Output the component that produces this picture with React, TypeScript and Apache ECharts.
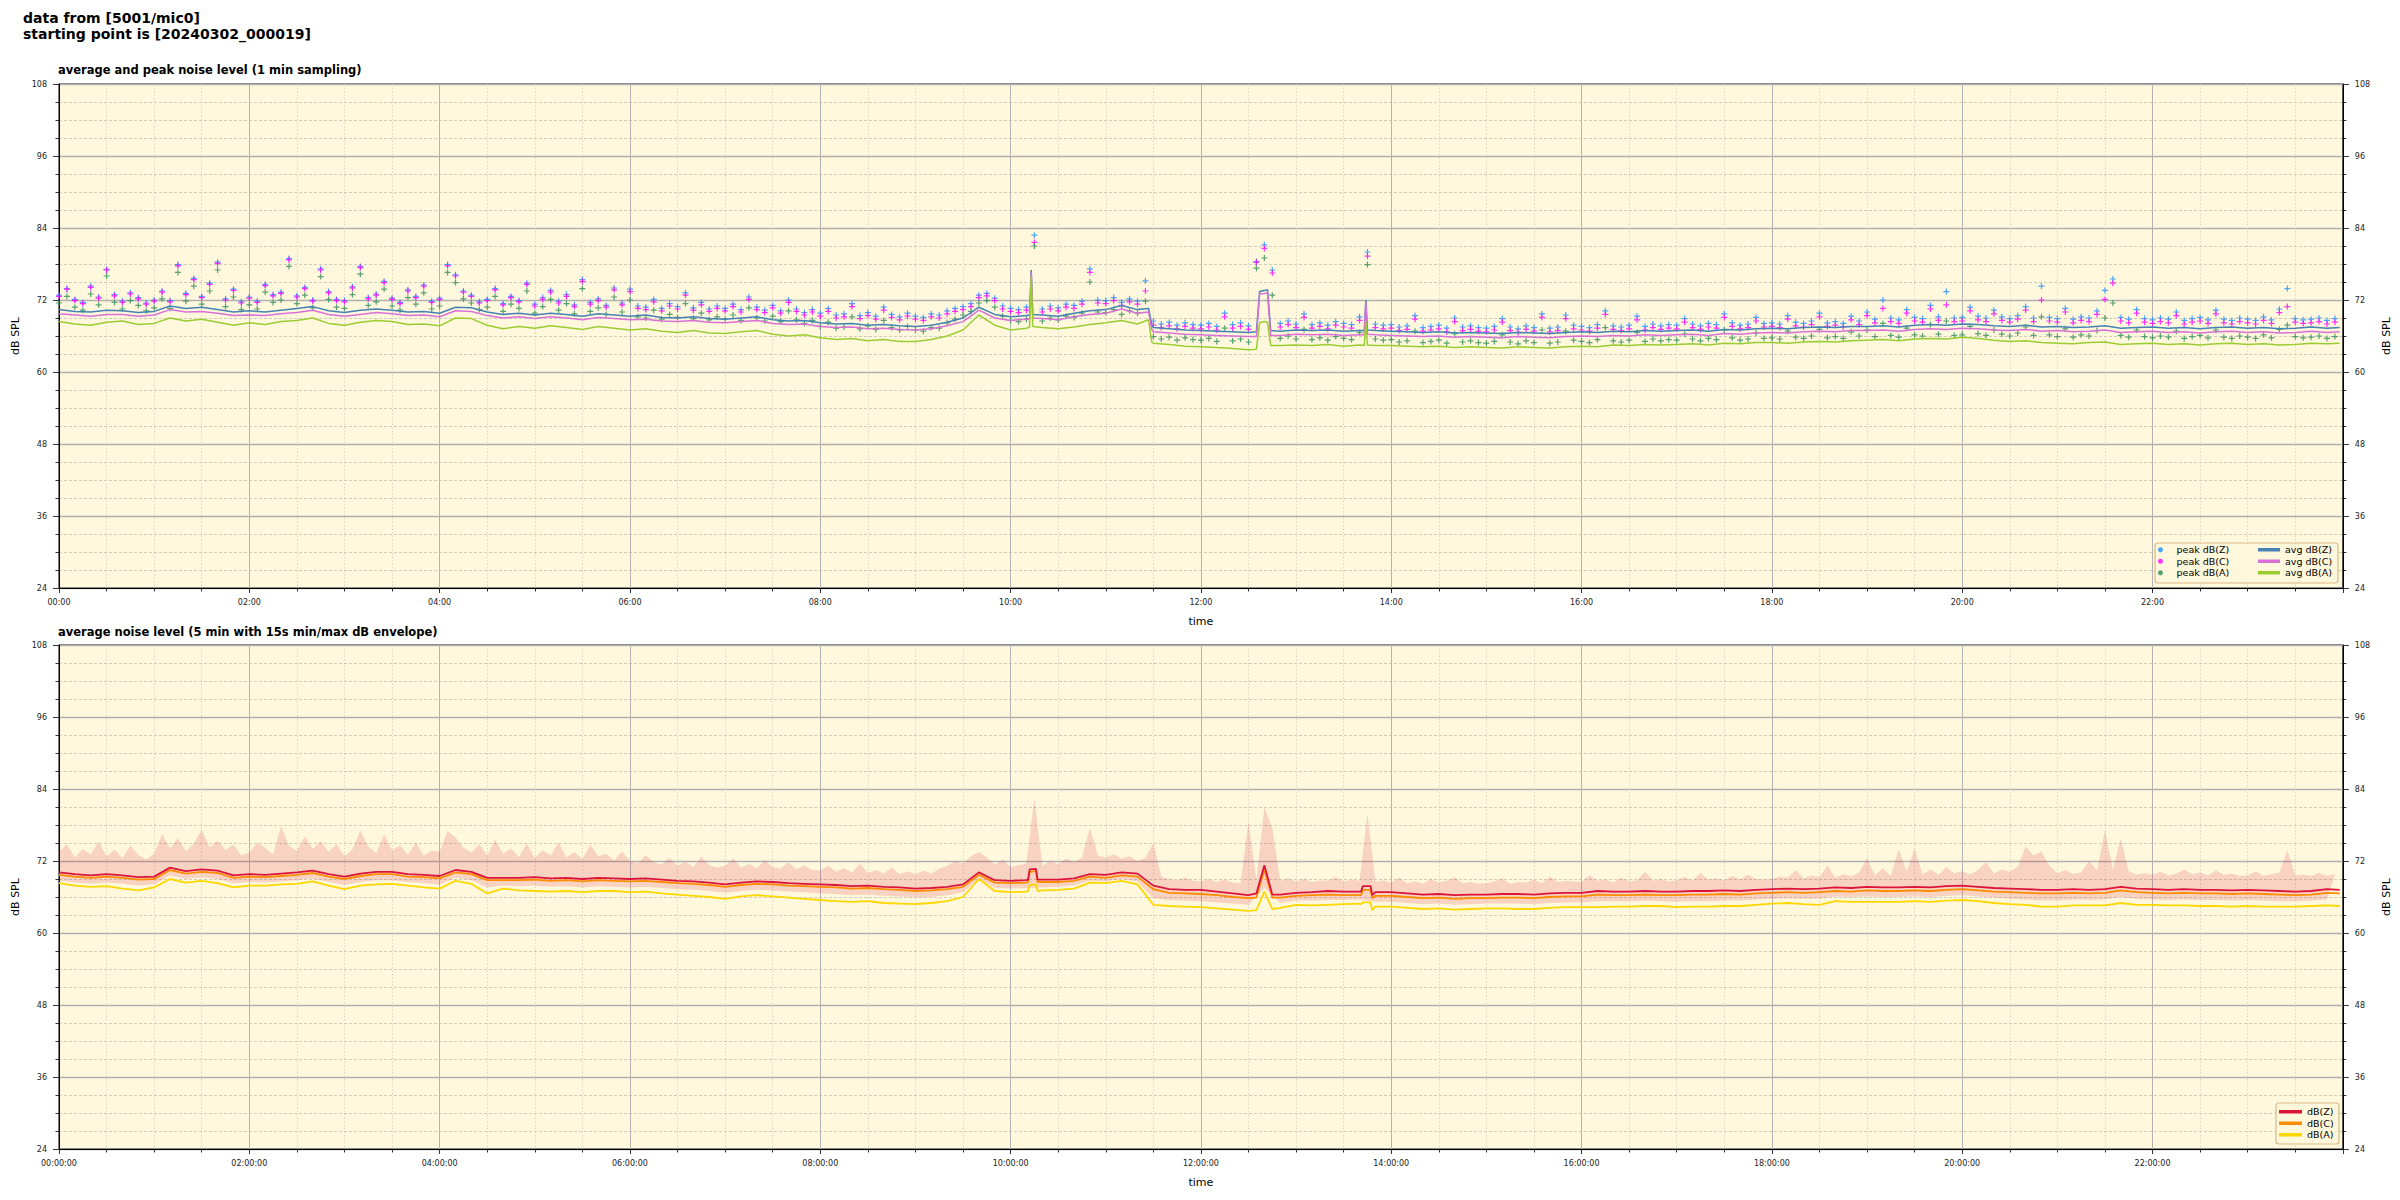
import React, { useEffect, useRef } from "react";
import * as echarts from "echarts";

const FONT = "DejaVu Sans";

const topTickLabels = ["00:00", "02:00", "04:00", "06:00", "08:00", "10:00", "12:00", "14:00", "16:00", "18:00", "20:00", "22:00"];
const bottomTickLabels = ["00:00:00", "02:00:00", "04:00:00", "06:00:00", "08:00:00", "10:00:00", "12:00:00", "14:00:00", "16:00:00", "18:00:00", "20:00:00", "22:00:00"];

// ---- top chart: 1 min sampling (read every 10 min for averages, every 5 min for peaks) ----
const avgZ = [
  70.4, 70.1, 70.0, 70.3, 70.2, 69.9,
  70.1, 71.0, 70.6, 70.8, 70.4, 70.0,
  70.2, 70.0, 70.3, 70.6, 70.9, 70.2,
  69.9, 70.3, 70.5, 70.3, 70.0, 70.1,
  69.8, 70.8, 70.7, 70.0, 69.6, 69.8,
  69.5, 69.8, 69.6, 69.3, 69.7, 69.5,
  69.3, 69.5, 69.1, 69.0, 69.2, 68.9,
  68.8, 69.0, 69.2, 68.7, 68.5, 68.6,
  68.2, 68.0, 68.1, 67.8, 67.9, 67.7,
  67.6, 67.8, 68.3, 69.0, 70.8, 69.6,
  69.2, 69.4, 69.5, 69.3, 69.8, 70.2,
  70.4, 71.1, 70.4, 67.4, 67.2, 67.0,
  66.9, 66.8, 66.7, 66.6, 73.6, 66.8,
  67.0, 66.9, 67.0, 66.8, 66.9, 66.9,
  66.8, 66.7, 66.6, 66.7, 66.5, 66.6,
  66.5, 66.4, 66.6, 66.5, 66.4, 66.6,
  66.7, 66.6, 66.8, 66.7, 66.9, 66.8,
  66.9, 67.0, 66.8, 67.1, 67.0, 67.2,
  67.3, 67.2, 67.4, 67.5, 67.4, 67.6,
  67.6, 67.7, 67.5, 67.8, 67.9, 67.8,
  68.0, 67.9, 67.7, 67.6, 67.8, 67.5,
  67.6, 67.4, 67.5, 67.7, 67.3, 67.4,
  67.5, 67.3, 67.4, 67.2, 67.4, 67.5,
  67.3, 67.4, 67.2, 67.3, 67.5, 67.3,
];
const avgC = [
  69.7, 69.5, 69.3, 69.6, 69.6, 69.3,
  69.5, 70.4, 70.0, 70.1, 69.8, 69.4,
  69.5, 69.4, 69.7, 69.9, 70.3, 69.6,
  69.3, 69.6, 69.9, 69.7, 69.4, 69.5,
  69.2, 70.2, 70.1, 69.4, 69.0, 69.2,
  68.9, 69.2, 69.0, 68.7, 69.1, 68.9,
  68.7, 68.8, 68.5, 68.4, 68.6, 68.3,
  68.2, 68.4, 68.6, 68.1, 67.9, 68.0,
  67.6, 67.4, 67.5, 67.2, 67.3, 67.1,
  67.0, 67.2, 67.7, 68.4, 70.3, 69.0,
  68.6, 68.8, 68.9, 68.7, 69.2, 69.6,
  69.8, 70.5, 69.8, 66.7, 66.5, 66.3,
  66.2, 66.1, 66.0, 65.9, 73.1, 66.1,
  66.3, 66.2, 66.3, 66.1, 66.2, 66.2,
  66.1, 66.0, 65.9, 66.0, 65.8, 65.9,
  65.8, 65.7, 65.9, 65.8, 65.7, 65.9,
  66.0, 65.9, 66.1, 66.0, 66.2, 66.1,
  66.2, 66.3, 66.1, 66.4, 66.3, 66.5,
  66.6, 66.5, 66.7, 66.8, 66.7, 66.9,
  66.9, 67.0, 66.8, 67.1, 67.2, 67.1,
  67.3, 67.2, 67.0, 66.9, 67.1, 66.8,
  66.9, 66.7, 66.8, 67.0, 66.6, 66.7,
  66.8, 66.6, 66.7, 66.5, 66.7, 66.8,
  66.6, 66.7, 66.5, 66.6, 66.8, 66.6,
];
const avgA = [
  68.4, 68.0, 67.8, 68.3, 68.5, 67.9,
  68.1, 69.0, 68.5, 68.8, 68.3, 67.8,
  68.2, 67.9, 68.4, 68.6, 69.0, 68.1,
  67.8, 68.3, 68.6, 68.4, 67.9, 68.0,
  67.7, 69.0, 68.9, 67.8, 67.2, 67.6,
  67.3, 67.7, 67.4, 67.1, 67.6, 67.3,
  67.0, 67.2, 66.8, 66.6, 66.9, 66.5,
  66.4, 66.7, 66.9, 66.3, 66.0, 66.2,
  65.7, 65.4, 65.6, 65.2, 65.4, 65.1,
  65.1, 65.4, 66.0, 67.0, 69.5, 67.8,
  67.0, 67.3, 67.4, 67.2, 67.5, 67.9,
  68.2, 68.6, 68.0, 64.8, 64.6, 64.3,
  64.2, 64.1, 63.9, 63.7, 68.4, 64.4,
  64.5, 64.4, 64.6, 64.3, 64.5, 64.4,
  64.4, 64.3, 64.2, 64.3, 64.1, 64.2,
  64.1, 64.0, 64.2, 64.1, 64.0, 64.2,
  64.3, 64.2, 64.5, 64.4, 64.6, 64.5,
  64.6, 64.7, 64.5, 64.8, 64.7, 64.9,
  64.9, 64.8, 65.0, 65.1, 65.0, 65.2,
  65.3, 65.4, 65.2, 65.5, 65.6, 65.5,
  65.8, 65.6, 65.3, 65.1, 65.2, 64.9,
  64.8, 64.7, 64.9, 65.0, 64.6, 64.7,
  64.8, 64.6, 64.7, 64.5, 64.7, 64.8,
  64.6, 64.7, 64.5, 64.6, 64.8, 64.7,
];
// short events read at minute precision: [minute, dB]
const avgZEvents = [[612, 69.5], [613, 77.0], [614, 69.6], [687, 70.6], [689, 67.8], [755, 66.7], [757, 73.4], [762, 73.7], [764, 66.9], [823, 66.9], [824, 72.0], [825, 67.0], [1438, 67.4]];
const avgCEvents = [[612, 68.9], [613, 76.6], [614, 69.0], [687, 70.0], [689, 67.1], [755, 65.9], [757, 73.0], [762, 73.2], [764, 66.1], [823, 66.2], [824, 71.6], [825, 66.3], [1438, 66.7]];
const avgAEvents = [[612, 67.5], [613, 76.0], [614, 67.6], [687, 68.7], [689, 65.0], [755, 63.8], [757, 68.2], [762, 68.3], [764, 64.4], [823, 64.4], [824, 68.5], [825, 64.5], [1438, 64.8]];

const peakZ = [
  72.8, 73.9, 72.1, 71.6, 74.3, 72.5, 77.1, 72.9, 71.8, 73.2, 72.4, 71.5,
  72.0, 73.5, 71.9, 77.9, 73.1, 75.6, 72.6, 74.8, 78.3, 72.2, 73.8, 71.7,
  72.5, 71.8, 74.6, 72.9, 73.3, 78.9, 72.7, 74.1, 72.0, 77.2, 73.4, 72.1,
  71.9, 74.2, 77.6, 72.4, 73.0, 75.1, 72.3, 71.6, 73.7, 72.6, 74.5, 71.8,
  72.3, 77.9, 76.2, 73.5, 72.8, 71.7, 72.1, 73.9, 71.4, 72.6, 71.9, 74.8,
  71.3, 72.4, 73.6, 71.8, 72.9, 71.2, 75.4, 71.6, 72.2, 71.1, 74.0, 71.5,
  73.8, 71.0, 70.8, 72.1, 70.6, 71.4, 70.9, 73.2, 70.7, 71.6, 70.5, 71.0,
  70.6, 71.3, 70.4, 72.5, 70.8, 70.3, 71.1, 70.2, 72.0, 70.5, 69.9, 70.4,
  69.8, 70.6, 69.5, 69.7, 71.4, 69.4, 69.9, 69.3, 70.8, 69.6, 69.2, 69.8,
  69.3, 69.1, 69.7, 69.5, 70.2, 70.6, 70.9, 71.4, 72.8, 73.1, 72.3, 71.0,
  70.6, 70.4, 70.8, 82.8, 70.5, 71.0, 70.7, 71.3, 71.1, 71.8, 77.2, 72.0,
  71.9, 72.4, 71.6, 72.2, 71.8, 75.2, 68.5, 68.0, 68.3, 67.8, 68.2, 67.9,
  67.8, 68.1, 67.6, 69.8, 67.9, 68.2, 67.7, 78.4, 81.2, 77.0, 68.1, 68.5,
  68.0, 69.7, 67.9, 68.2, 67.8, 68.4, 68.1, 67.9, 69.2, 80.0, 68.0, 67.8,
  67.9, 67.5, 67.7, 69.4, 67.4, 67.6, 67.8, 67.3, 69.0, 67.5, 67.7, 67.4,
  67.3, 67.6, 68.9, 67.5, 67.2, 67.7, 67.4, 69.7, 67.3, 67.5, 69.5, 67.8,
  67.6, 67.4, 67.9, 70.2, 67.7, 67.5, 67.8, 69.3, 67.6, 68.0, 67.7, 67.9,
  67.8, 68.9, 68.0, 67.7, 68.1, 67.9, 69.7, 68.2, 67.8, 68.0, 69.1, 68.1,
  68.2, 68.0, 69.4, 68.3, 68.1, 68.5, 69.8, 68.2, 68.4, 68.1, 69.3, 68.5,
  70.0, 68.8, 72.0, 69.0, 68.7, 70.4, 69.1, 68.9, 71.1, 69.2, 73.4, 69.0,
  69.1, 70.8, 69.3, 69.0, 70.3, 69.2, 68.9, 69.4, 70.9, 69.0, 74.3, 69.1,
  68.9, 70.6, 68.8, 69.2, 69.0, 70.2, 73.6, 75.5, 69.1, 68.8, 70.4, 68.9,
  68.7, 69.0, 68.8, 70.0, 68.6, 68.9, 69.1, 68.7, 70.3, 68.8, 68.6, 69.0,
  68.8, 68.6, 69.2, 68.7, 70.5, 73.9, 68.9, 68.7, 68.8, 69.0, 68.6, 68.9,
];
const peakC = [
  72.6, 73.8, 71.9, 71.4, 74.1, 72.3, 77.0, 72.7, 71.6, 73.0, 72.2, 71.3,
  71.8, 73.3, 71.7, 77.7, 72.9, 75.4, 72.4, 74.6, 78.1, 72.0, 73.6, 71.5,
  72.3, 71.6, 74.4, 72.7, 73.1, 78.7, 72.5, 73.9, 71.8, 77.0, 73.2, 71.9,
  71.7, 74.0, 77.4, 72.2, 72.8, 74.9, 72.1, 71.4, 73.5, 72.4, 74.3, 71.6,
  72.1, 77.7, 76.0, 73.3, 72.6, 71.5, 71.9, 73.7, 71.2, 72.4, 71.7, 74.6,
  71.0, 72.1, 73.3, 71.5, 72.6, 70.9, 75.1, 71.3, 71.9, 70.8, 73.7, 71.2,
  73.4, 70.6, 70.4, 71.7, 70.2, 71.0, 70.5, 72.8, 70.3, 71.2, 70.1, 70.6,
  70.2, 70.9, 70.0, 72.1, 70.4, 69.9, 70.7, 69.8, 71.6, 70.1, 69.5, 70.0,
  69.3, 70.1, 69.0, 69.2, 70.9, 68.9, 69.4, 68.8, 70.3, 69.1, 68.7, 69.3,
  68.8, 68.6, 69.2, 69.0, 69.7, 70.1, 70.4, 70.9, 72.4, 72.7, 71.9, 70.5,
  70.1, 69.9, 70.3, 81.6, 70.0, 70.5, 70.2, 70.8, 70.6, 71.3, 76.6, 71.5,
  71.4, 71.9, 71.1, 71.7, 71.3, 73.5, 67.8, 67.4, 67.7, 67.2, 67.6, 67.3,
  67.2, 67.5, 67.0, 69.2, 67.3, 67.6, 67.1, 78.3, 80.6, 76.5, 67.5, 67.9,
  67.4, 69.1, 67.3, 67.6, 67.2, 67.8, 67.5, 67.3, 68.6, 79.3, 67.4, 67.2,
  67.3, 66.9, 67.1, 68.8, 66.8, 67.0, 67.2, 66.7, 68.4, 66.9, 67.1, 66.8,
  66.7, 67.0, 68.3, 66.9, 66.6, 67.1, 66.8, 69.1, 66.7, 66.9, 68.9, 67.2,
  67.0, 66.8, 67.3, 69.6, 67.1, 66.9, 67.2, 68.7, 67.0, 67.4, 67.1, 67.3,
  67.2, 68.3, 67.4, 67.1, 67.5, 67.3, 69.1, 67.6, 67.2, 67.4, 68.5, 67.5,
  67.6, 67.4, 68.8, 67.7, 67.5, 67.9, 69.2, 67.6, 67.8, 67.5, 68.7, 67.9,
  69.4, 68.2, 70.6, 68.4, 68.1, 69.8, 68.5, 68.3, 70.5, 68.6, 71.2, 68.4,
  68.5, 70.2, 68.7, 68.4, 69.7, 68.6, 68.3, 68.8, 70.3, 68.4, 72.0, 68.5,
  68.3, 70.0, 68.2, 68.6, 68.4, 69.6, 72.1, 74.8, 68.5, 68.2, 69.8, 68.3,
  68.1, 68.4, 68.2, 69.4, 68.0, 68.3, 68.5, 68.1, 69.7, 68.2, 68.0, 68.4,
  68.2, 68.0, 68.6, 68.1, 69.9, 70.9, 68.3, 68.1, 68.2, 68.4, 68.0, 68.3,
];
const peakA = [
  71.5, 72.6, 70.8, 70.3, 73.0, 71.2, 76.0, 71.6, 70.5, 71.9, 71.1, 70.2,
  70.7, 72.2, 70.6, 76.6, 71.8, 74.3, 71.3, 73.5, 77.0, 70.9, 72.5, 70.4,
  71.2, 70.5, 73.3, 71.6, 72.0, 77.6, 71.4, 72.8, 70.7, 75.9, 72.1, 70.8,
  70.6, 72.9, 76.3, 71.1, 71.7, 73.8, 71.0, 70.3, 72.4, 71.3, 73.2, 70.5,
  71.0, 76.6, 74.9, 72.2, 71.5, 70.4, 70.8, 72.6, 70.1, 71.3, 70.6, 73.5,
  69.8, 70.9, 72.1, 70.3, 71.4, 69.7, 73.9, 70.1, 70.7, 69.6, 72.5, 70.0,
  72.0, 69.2, 69.0, 70.3, 68.8, 69.6, 69.1, 71.4, 68.9, 69.8, 68.7, 69.2,
  68.8, 69.5, 68.6, 70.7, 69.0, 68.5, 69.3, 68.4, 70.2, 68.7, 68.1, 68.6,
  67.6, 68.3, 67.3, 67.5, 69.2, 67.2, 67.7, 67.1, 68.6, 67.4, 67.0, 67.6,
  67.0, 66.8, 67.4, 67.3, 68.2, 68.8, 69.5, 70.1, 71.5, 71.9, 70.8, 69.3,
  68.6, 68.4, 68.8, 81.0, 68.5, 69.0, 68.7, 69.3, 69.1, 69.8, 75.0, 70.0,
  69.9, 70.4, 69.6, 70.2, 69.8, 71.8, 65.9, 65.5, 65.8, 65.3, 65.7, 65.4,
  65.3, 65.6, 65.1, 67.3, 65.2, 65.5, 65.0, 77.3, 79.0, 72.8, 65.6, 66.0,
  65.5, 67.1, 65.4, 65.7, 65.3, 65.9, 65.6, 65.4, 66.6, 77.9, 65.5, 65.3,
  65.4, 65.0, 65.2, 66.8, 64.9, 65.1, 65.3, 64.8, 66.4, 65.0, 65.2, 64.9,
  64.8, 65.1, 66.2, 65.0, 64.7, 65.2, 64.9, 67.0, 64.8, 65.0, 66.8, 65.3,
  65.1, 64.9, 65.4, 67.4, 65.2, 65.0, 65.3, 66.6, 65.1, 65.5, 65.2, 65.4,
  65.3, 66.3, 65.5, 65.2, 65.6, 65.4, 67.0, 65.7, 65.3, 65.5, 66.5, 65.6,
  65.7, 65.5, 66.8, 65.8, 65.6, 66.0, 67.1, 65.7, 65.9, 65.6, 66.7, 66.0,
  67.0, 65.9, 68.1, 66.1, 65.8, 67.3, 66.2, 66.0, 67.9, 66.3, 68.5, 66.1,
  66.2, 67.6, 66.4, 66.1, 67.0, 66.3, 66.0, 66.5, 67.5, 66.1, 69.2, 66.2,
  65.9, 67.2, 65.8, 66.2, 66.0, 66.9, 69.0, 71.5, 66.1, 65.8, 67.0, 65.9,
  65.7, 66.0, 65.8, 66.8, 65.6, 65.9, 66.1, 65.7, 67.0, 65.8, 65.6, 66.0,
  65.8, 65.6, 66.2, 65.7, 67.1, 67.8, 65.9, 65.7, 65.8, 66.0, 65.6, 65.9,
];

// ---- bottom chart: 5 min averages (read every 10 min) and 15 s min/max envelope ----
const botZ = [
  70.1, 69.8, 69.6, 69.8, 69.6, 69.3,
  69.4, 70.9, 70.3, 70.6, 70.4, 69.6,
  69.8, 69.7, 69.9, 70.1, 70.4, 69.8,
  69.4, 69.9, 70.2, 70.2, 69.8, 69.7,
  69.5, 70.5, 70.2, 69.2, 69.2, 69.2,
  69.3, 69.1, 69.2, 69.0, 69.2, 69.1,
  69.0, 69.1, 68.9, 68.7, 68.6, 68.4,
  68.1, 68.4, 68.6, 68.5, 68.3, 68.2,
  68.1, 68.0, 67.8, 67.9, 67.7, 67.6,
  67.4, 67.5, 67.7, 68.1, 70.1, 68.8,
  68.7, 68.8, 68.9, 68.9, 69.1, 69.8,
  69.7, 70.1, 69.9, 67.9, 67.3, 67.2,
  67.2, 66.9, 66.6, 66.3, 71.3, 66.4,
  66.7, 66.8, 67.0, 66.9, 66.9, 66.8,
  66.8, 66.6, 66.4, 66.5, 66.3, 66.4,
  66.4, 66.5, 66.5, 66.4, 66.6, 66.7,
  66.7, 67.0, 66.9, 66.9, 67.0, 66.9,
  66.9, 67.0, 67.0, 67.1, 67.0, 67.2,
  67.3, 67.4, 67.3, 67.4, 67.6, 67.5,
  67.7, 67.6, 67.6, 67.7, 67.6, 67.8,
  67.9, 67.7, 67.5, 67.4, 67.3, 67.2,
  67.2, 67.3, 67.2, 67.3, 67.7, 67.4,
  67.3, 67.2, 67.3, 67.2, 67.2, 67.1,
  67.2, 67.1, 67.0, 66.9, 67.0, 67.3,
];
const botC = [
  69.7, 69.4, 69.2, 69.4, 69.2, 68.9,
  69.0, 70.5, 69.9, 70.2, 70.0, 69.2,
  69.4, 69.3, 69.5, 69.7, 70.0, 69.4,
  69.0, 69.5, 69.8, 69.8, 69.4, 69.3,
  69.1, 70.1, 69.8, 68.8, 68.8, 68.8,
  68.9, 68.7, 68.8, 68.6, 68.8, 68.7,
  68.6, 68.7, 68.5, 68.3, 68.2, 68.0,
  67.7, 68.0, 68.2, 68.1, 67.9, 67.8,
  67.7, 67.6, 67.4, 67.5, 67.3, 67.2,
  67.0, 67.1, 67.3, 67.7, 69.7, 68.4,
  68.3, 68.4, 68.5, 68.5, 68.7, 69.4,
  69.2, 69.6, 69.4, 67.3, 66.7, 66.6,
  66.5, 66.3, 66.0, 65.8, 70.6, 65.9,
  66.2, 66.3, 66.4, 66.3, 66.3, 66.2,
  66.2, 66.0, 65.8, 65.9, 65.7, 65.8,
  65.8, 65.9, 65.9, 65.8, 66.0, 66.1,
  66.1, 66.4, 66.3, 66.3, 66.4, 66.3,
  66.3, 66.4, 66.4, 66.5, 66.4, 66.6,
  66.7, 66.8, 66.7, 66.8, 67.0, 66.9,
  67.1, 67.0, 67.0, 67.1, 67.0, 67.2,
  67.3, 67.1, 66.9, 66.8, 66.7, 66.6,
  66.6, 66.7, 66.6, 66.7, 67.1, 66.8,
  66.7, 66.6, 66.7, 66.6, 66.6, 66.5,
  66.6, 66.5, 66.4, 66.3, 66.4, 66.7,
];
const botA = [
  68.3, 67.9, 67.7, 67.8, 67.4, 67.1,
  67.6, 69.0, 68.4, 68.7, 68.3, 67.6,
  67.9, 67.9, 68.1, 68.2, 68.6, 67.9,
  67.3, 67.9, 68.1, 68.2, 67.9, 67.6,
  67.4, 68.7, 68.2, 66.6, 67.4, 67.1,
  67.0, 66.9, 67.0, 66.8, 67.0, 67.0,
  66.8, 66.9, 66.6, 66.4, 66.2, 66.0,
  65.7, 66.1, 66.3, 66.1, 65.9, 65.7,
  65.5, 65.3, 65.2, 65.3, 65.0, 64.9,
  64.8, 65.0, 65.3, 66.0, 69.0, 67.0,
  66.8, 66.9, 67.1, 67.2, 67.4, 68.4,
  68.3, 68.7, 68.1, 64.7, 64.5, 64.4,
  64.3, 64.1, 63.9, 63.7, 66.9, 64.2,
  64.7, 64.6, 64.7, 64.8, 64.9, 64.4,
  64.4, 64.2, 64.0, 64.1, 63.9, 64.0,
  64.1, 64.1, 64.0, 64.0, 64.2, 64.3,
  64.3, 64.3, 64.4, 64.4, 64.5, 64.5,
  64.3, 64.4, 64.4, 64.5, 64.5, 64.7,
  64.9, 65.0, 64.8, 64.7, 65.3, 65.2,
  65.2, 65.2, 65.2, 65.3, 65.2, 65.4,
  65.5, 65.3, 65.0, 64.8, 64.7, 64.4,
  64.4, 64.6, 64.6, 64.6, 65.0, 64.7,
  64.7, 64.6, 64.6, 64.5, 64.5, 64.4,
  64.5, 64.4, 64.4, 64.4, 64.5, 64.6,
];
const botZEvents = [[611, 68.9], [612, 70.6], [616, 70.7], [617, 68.9], [755, 66.6], [765, 66.4], [821, 66.9], [822, 67.8], [827, 67.8], [828, 66.3], [1438, 67.2]];
const botCEvents = [[611, 68.5], [612, 70.2], [616, 70.3], [617, 68.5], [755, 65.9], [765, 65.9], [821, 66.3], [822, 67.2], [827, 67.2], [828, 65.8], [1438, 66.6]];
const botAEvents = [[611, 67.0], [612, 68.0], [616, 68.1], [617, 67.0], [755, 63.8], [765, 64.0], [821, 64.8], [822, 65.1], [827, 65.1], [828, 63.8], [1438, 64.5]];

// envelope: max read every 5 min, min read every 10 min
const envMax = [
  73.5, 74.8, 72.6, 74.0, 73.1, 75.2, 72.8, 73.9, 72.4, 74.6, 73.0, 72.3,
  73.2, 76.5, 74.1, 75.8, 73.6, 74.9, 77.2, 74.3, 75.4, 73.8, 74.7, 72.9,
  73.4, 75.0, 74.2, 73.1, 77.8, 74.5, 73.7, 76.1, 74.0, 75.3, 73.5, 74.8,
  72.8, 73.9, 77.1, 74.4, 73.3, 76.4, 73.8, 74.6, 73.0, 75.1, 72.9, 73.7,
  73.6, 77.0, 75.9, 74.2, 73.4, 74.8, 72.9, 75.6, 73.2, 74.1, 72.7, 74.9,
  72.5, 73.8, 72.9, 75.1, 72.6, 73.5, 72.3, 74.7, 72.8, 73.2, 72.1, 73.6,
  72.0, 71.6, 73.0, 71.8, 71.4, 72.5, 71.2, 71.9, 71.0, 72.7, 71.3, 70.9,
  71.2, 72.4, 70.9, 71.5, 70.8, 72.1, 71.0, 70.7, 71.8, 70.6, 71.3, 70.5,
  70.4, 71.2, 70.2, 70.8, 70.1, 71.6, 70.0, 70.5, 69.9, 70.9, 69.8, 70.3,
  69.8, 70.4, 69.9, 70.7, 71.2, 72.0, 71.6, 72.8, 73.5, 72.6, 71.4, 72.2,
  71.0, 71.3, 71.6, 82.5, 71.2, 72.0, 71.5, 72.4, 71.8, 72.6, 77.5, 72.9,
  72.6, 73.1, 72.4, 72.8, 72.0, 72.5, 75.0, 69.4, 69.0, 68.8, 69.2, 68.7,
  68.6, 69.0, 68.5, 68.9, 68.4, 68.3, 78.6, 68.8, 81.0, 77.5, 68.7, 69.1,
  68.6, 69.0, 68.5, 68.8, 68.7, 69.3, 68.6, 68.9, 68.7, 79.9, 68.5, 68.8,
  68.4, 69.2, 68.3, 68.6, 68.2, 69.0, 68.4, 68.7, 69.3, 68.3, 68.5, 68.2,
  68.3, 68.6, 69.1, 68.2, 68.5, 68.4, 68.9, 68.3, 69.4, 68.5, 68.7, 68.6,
  68.5, 69.6, 68.7, 68.9, 68.4, 69.2, 68.6, 68.8, 70.2, 68.7, 69.0, 68.6,
  68.8, 69.3, 68.7, 70.0, 68.9, 69.1, 68.8, 69.5, 68.9, 69.7, 69.0, 68.9,
  69.0, 69.4, 69.2, 70.5, 69.1, 69.6, 69.3, 71.3, 69.2, 69.8, 69.4, 70.1,
  72.4, 69.6, 70.8, 69.5, 74.0, 70.2, 74.1, 69.8, 70.6, 69.7, 71.0, 69.9,
  70.3, 69.8, 70.5, 71.8, 69.9, 70.6, 70.2, 71.0, 74.4, 72.9, 73.6, 71.2,
  69.9, 70.5, 69.8, 70.1, 72.0, 70.4, 77.2, 70.6, 75.8, 70.3, 69.7, 70.0,
  69.7, 70.2, 69.6, 69.9, 70.6, 69.8, 70.1, 69.6, 70.4, 69.7, 69.9, 69.5,
  69.6, 70.3, 69.5, 69.8, 70.1, 73.8, 69.6, 69.7, 69.5, 70.0, 69.6, 69.8,
];
const envMin = [
  68.7, 68.4, 68.2, 68.4, 68.2, 67.9,
  68.1, 69.6, 69.0, 69.3, 69.0, 68.3,
  68.5, 68.4, 68.6, 68.8, 69.1, 68.5,
  68.0, 68.5, 68.8, 68.8, 68.5, 68.3,
  68.1, 69.2, 68.8, 67.6, 67.9, 67.8,
  67.9, 67.7, 67.8, 67.6, 67.8, 67.7,
  67.6, 67.7, 67.5, 67.3, 67.2, 67.0,
  66.7, 67.0, 67.2, 67.1, 66.9, 66.8,
  66.6, 66.5, 66.3, 66.4, 66.2, 66.1,
  65.9, 66.0, 66.3, 66.8, 69.0, 67.5,
  67.4, 67.5, 67.6, 67.7, 67.9, 68.7,
  68.6, 69.0, 68.6, 65.8, 65.5, 65.4,
  65.3, 65.1, 64.9, 64.7, 67.5, 65.0,
  65.4, 65.4, 65.5, 65.5, 65.6, 65.2,
  65.2, 65.0, 64.8, 64.9, 64.7, 64.8,
  64.9, 64.9, 64.9, 64.8, 65.0, 65.1,
  65.1, 65.3, 65.3, 65.3, 65.4, 65.3,
  65.2, 65.3, 65.3, 65.4, 65.4, 65.6,
  65.7, 65.8, 65.7, 65.7, 66.1, 66.0,
  66.1, 66.0, 66.0, 66.1, 66.0, 66.2,
  66.3, 66.1, 65.9, 65.7, 65.6, 65.4,
  65.4, 65.6, 65.5, 65.6, 66.0, 65.7,
  65.6, 65.5, 65.6, 65.5, 65.5, 65.4,
  65.5, 65.4, 65.3, 65.3, 65.4, 65.6,
];

function withEvents(values: number[], step: number, events: number[][]) {
  return values
    .map((v, i) => [i * step, v])
    .concat(events)
    .sort((a, b) => a[0] - b[0]);
}
function every5(values: number[]) {
  return values.map((v, i) => [i * 5, v]);
}

const PLUS = "path://M2,0H3V2H5V3H3V5H2V3H0V2H2Z";
const TXT = "#222";

function xAxisFor(gridIndex: number, labels: string[]) {
  return {
    type: "value",
    gridIndex,
    min: 0,
    max: 1440,
    interval: 120,
    name: "time",
    nameLocation: "middle",
    nameGap: 28,
    nameTextStyle: { fontSize: 11, color: "#000", fontFamily: FONT },
    axisLine: { show: true, onZero: false, lineStyle: { color: "#000", width: 1 } },
    axisTick: { show: true, length: 5, lineStyle: { color: "#000", width: 0.8 } },
    minorTick: { show: true, splitNumber: 4, length: 3.5, lineStyle: { color: "#000", width: 0.8 } },
    axisLabel: {
      margin: 10,
      fontSize: 8,
      color: TXT,
      fontFamily: FONT,
      showMaxLabel: false,
      formatter: (v: number) => (v % 120 === 0 && labels[v / 120] ? labels[v / 120] : ""),
    },
    splitLine: { show: true, lineStyle: { color: "#b4b4b4", width: 1 } },
    minorSplitLine: { show: true, lineStyle: { color: "#d2cdb8", width: 0.8, type: [1.5, 2] } },
  };
}

function yAxisFor(gridIndex: number, position: "left" | "right") {
  const left = position === "left";
  return {
    type: "value",
    gridIndex,
    position,
    min: 24,
    max: 108,
    interval: 12,
    name: "dB SPL",
    nameLocation: "middle",
    nameGap: left ? 36 : 30,
    nameRotate: 90,
    nameTextStyle: { fontSize: 11, color: "#000", fontFamily: FONT },
    axisLine: { show: true, lineStyle: { color: "#000", width: 1 } },
    axisTick: { show: true, length: 6, lineStyle: { color: "#000", width: 0.8 } },
    minorTick: { show: true, splitNumber: 4, length: 3.5, lineStyle: { color: "#000", width: 0.8 } },
    axisLabel: { margin: 12, fontSize: 8, color: TXT, fontFamily: FONT },
    splitLine: { show: left, lineStyle: { color: "#b0b0b0", width: 1.4 } },
    minorSplitLine: { show: left, lineStyle: { color: "#c4c0b0", width: 0.8, type: [3, 2] } },
  };
}

const option: any = {
  animation: false,
  backgroundColor: "#ffffff",
  textStyle: { fontFamily: FONT },
  title: [
    {
      text: "data from [5001/mic0]\nstarting point is [20240302_000019]",
      left: 23,
      top: 10,
      padding: 0,
      textStyle: { fontSize: 14, fontWeight: "bold", lineHeight: 15.7, color: "#000", fontFamily: FONT },
    },
    {
      text: "average and peak noise level (1 min sampling)",
      left: 58,
      top: 64,
      padding: 0,
      textStyle: { fontSize: 11.5, fontWeight: "bold", color: "#000", fontFamily: FONT },
    },
    {
      text: "average noise level (5 min with 15s min/max dB envelope)",
      left: 58,
      top: 626,
      padding: 0,
      textStyle: { fontSize: 11.5, fontWeight: "bold", color: "#000", fontFamily: FONT },
    },
  ],
  grid: [
    { left: 59, top: 84, width: 2284, height: 504, show: true, backgroundColor: "#fff8dc", borderColor: "#000", borderWidth: 1 },
    { left: 59, top: 645, width: 2284, height: 504, show: true, backgroundColor: "#fff8dc", borderColor: "#000", borderWidth: 1 },
  ],
  xAxis: [xAxisFor(0, topTickLabels), xAxisFor(1, bottomTickLabels)],
  yAxis: [yAxisFor(0, "left"), yAxisFor(0, "right"), yAxisFor(1, "left"), yAxisFor(1, "right")],
  legend: [
    {
      data: [
        { name: "peak dB(Z)", icon: "circle" },
        { name: "peak dB(C)", icon: "circle" },
        { name: "peak dB(A)", icon: "circle" },
      ],
      left: 2158,
      top: 544,
      orient: "vertical",
      itemWidth: 22,
      itemHeight: 5,
      itemGap: 0,
      padding: 0,
      selectedMode: false,
      z: 120,
      textStyle: { fontSize: 9.5, lineHeight: 11.5, color: "#000", fontFamily: FONT },
    },
    {
      data: [
        { name: "avg dB(Z)", icon: "rect" },
        { name: "avg dB(C)", icon: "rect" },
        { name: "avg dB(A)", icon: "rect" },
      ],
      left: 2258,
      top: 544,
      orient: "vertical",
      itemWidth: 22,
      itemHeight: 3.5,
      itemGap: 0,
      padding: 0,
      selectedMode: false,
      z: 120,
      textStyle: { fontSize: 9.5, lineHeight: 11.5, color: "#000", fontFamily: FONT },
    },
    {
      data: [
        { name: "dB(Z)", icon: "rect" },
        { name: "dB(C)", icon: "rect" },
        { name: "dB(A)", icon: "rect" },
      ],
      left: 2279,
      top: 1106,
      orient: "vertical",
      itemWidth: 23,
      itemHeight: 3.5,
      itemGap: 0,
      padding: 0,
      selectedMode: false,
      z: 120,
      textStyle: { fontSize: 9.5, lineHeight: 11.5, color: "#000", fontFamily: FONT },
    },
  ],
  graphic: [
    {
      type: "rect",
      z: 100,
      shape: { x: 2155, y: 543, width: 183, height: 40, r: 3 },
      style: { fill: "rgba(255,248,220,0.85)", stroke: "#deb887", lineWidth: 1.2 },
    },
    {
      type: "rect",
      z: 100,
      shape: { x: 2276, y: 1103, width: 63, height: 41, r: 3 },
      style: { fill: "rgba(255,248,220,0.85)", stroke: "#deb887", lineWidth: 1.2 },
    },
  ],
  series: [
    {
      name: "peak dB(Z)", type: "scatter", xAxisIndex: 0, yAxisIndex: 0, z: 2,
      symbol: PLUS, symbolSize: 6, color: "#1e90ff",
      data: every5(peakZ),
    },
    {
      name: "peak dB(C)", type: "scatter", xAxisIndex: 0, yAxisIndex: 0, z: 2,
      symbol: PLUS, symbolSize: 6, color: "#ff00ff",
      data: every5(peakC),
    },
    {
      name: "peak dB(A)", type: "scatter", xAxisIndex: 0, yAxisIndex: 0, z: 2,
      symbol: PLUS, symbolSize: 6, color: "#2e8b57",
      data: every5(peakA),
    },
    {
      name: "avg dB(Z)", type: "line", xAxisIndex: 0, yAxisIndex: 0, z: 3,
      showSymbol: false, symbol: "none", color: "#4682b4",
      lineStyle: { color: "#4682b4", width: 1.5 },
      data: withEvents(avgZ, 10, avgZEvents),
    },
    {
      name: "avg dB(C)", type: "line", xAxisIndex: 0, yAxisIndex: 0, z: 3,
      showSymbol: false, symbol: "none", color: "#da70d6",
      lineStyle: { color: "#da70d6", width: 1.5 },
      data: withEvents(avgC, 10, avgCEvents),
    },
    {
      name: "avg dB(A)", type: "line", xAxisIndex: 0, yAxisIndex: 0, z: 3,
      showSymbol: false, symbol: "none", color: "#9acd32",
      lineStyle: { color: "#9acd32", width: 1.5 },
      data: withEvents(avgA, 10, avgAEvents),
    },
    {
      name: "envelope", type: "custom", xAxisIndex: 1, yAxisIndex: 2, z: 1, silent: true,
      data: [[720, 66]],
      renderItem: (_params: any, api: any) => {
        const pts: number[][] = [];
        envMax.forEach((v, i) => pts.push(api.coord([i * 5, v])));
        for (let i = envMin.length - 1; i >= 0; i--) pts.push(api.coord([i * 10, envMin[i]]));
        return { type: "polygon", shape: { points: pts }, style: { fill: "rgba(220,20,60,0.16)" } };
      },
    },
    {
      name: "dB(A)", type: "line", xAxisIndex: 1, yAxisIndex: 2, z: 3,
      showSymbol: false, symbol: "none", color: "#ffd700",
      lineStyle: { color: "#ffd700", width: 1.8 },
      data: withEvents(botA, 10, botAEvents),
    },
    {
      name: "dB(C)", type: "line", xAxisIndex: 1, yAxisIndex: 2, z: 3,
      showSymbol: false, symbol: "none", color: "#ff8c00",
      lineStyle: { color: "#ff8c00", width: 1.8 },
      data: withEvents(botC, 10, botCEvents),
    },
    {
      name: "dB(Z)", type: "line", xAxisIndex: 1, yAxisIndex: 2, z: 4,
      showSymbol: false, symbol: "none", color: "#dc143c",
      lineStyle: { color: "#dc143c", width: 1.8 },
      data: withEvents(botZ, 10, botZEvents),
    },
  ],
};

export default function App() {
  const ref = useRef<HTMLDivElement>(null);
  useEffect(() => {
    if (!ref.current) return;
    const chart = echarts.init(ref.current, null, { renderer: "svg" });
    chart.setOption(option);
    return () => chart.dispose();
  }, []);
  return <div ref={ref} style={{ position: "fixed", left: 0, top: 0, width: 2400, height: 1200 }} />;
}
